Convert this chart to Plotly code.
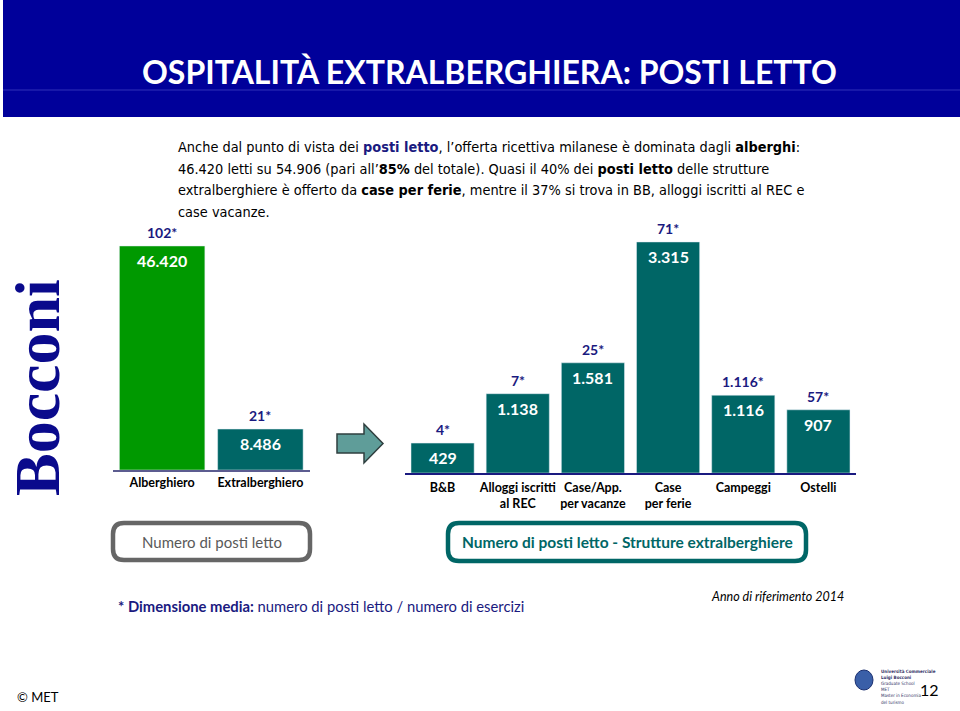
import plotly.graph_objects as go

W, H = 960, 711

# ---- data ----
left_cats = ["Alberghiero", "Extralberghiero"]
left_vals = [46420, 8486]
left_avg = ["102*", "21*"]

right_cats = ["B&B", "Alloggi iscritti<br>al REC", "Case/App.<br>per vacanze",
              "Case<br>per ferie", "Campeggi", "Ostelli"]
right_vals = [429, 1138, 1581, 3315, 1116, 907]
right_avg = ["4*", "7*", "25*", "71*", "1.116*", "57*"]

GREEN = "#009900"
TEAL = "#006666"
NAVY = "#1a1a80"
FONT = "Lato"


def fmt(v):
    return f"{v:,}".replace(",", ".")


def px(x):
    return x / W


def py(y):
    return 1 - y / H


fig = go.Figure()
fig.add_trace(go.Bar(x=left_cats, y=left_vals, marker_color=[GREEN, TEAL],
                     xaxis="x", yaxis="y", hoverinfo="skip", showlegend=False))
fig.add_trace(go.Bar(x=right_cats, y=right_vals, marker_color=TEAL,
                     xaxis="x2", yaxis="y2", hoverinfo="skip", showlegend=False))

ann = []
for c, v, a in zip(left_cats, left_vals, left_avg):
    ann.append(dict(x=c, y=v, xref="x", yref="y", text=f"<b>{fmt(v)}</b>", showarrow=False,
                    yanchor="top", yshift=-3, font=dict(family=FONT, size=16, color="white")))
    ann.append(dict(x=c, y=v, xref="x", yref="y", text=f"<b>{a}</b>", showarrow=False,
                    yanchor="bottom", yshift=3, font=dict(family=FONT, size=14, color=NAVY)))
for c, v, a in zip(right_cats, right_vals, right_avg):
    ann.append(dict(x=c, y=v, xref="x2", yref="y2", text=f"<b>{fmt(v)}</b>", showarrow=False,
                    yanchor="top", yshift=-3, font=dict(family=FONT, size=16, color="white")))
    ann.append(dict(x=c, y=v, xref="x2", yref="y2", text=f"<b>{a}</b>", showarrow=False,
                    yanchor="bottom", yshift=3, font=dict(family=FONT, size=14, color=NAVY)))


def text(x, y, t, size, color="black", xanchor="left", family=FONT, angle=0):
    ann.append(dict(x=px(x), y=py(y), xref="paper", yref="paper", text=t, showarrow=False,
                    xanchor=xanchor, yanchor="middle", textangle=angle,
                    font=dict(family=family, size=size, color=color)))


# title
text(489, 71, "<b>OSPITALITÀ EXTRALBERGHIERA: POSTI LETTO</b>", 32, "white", "center")

# body paragraph
BODY = "Liberation Sans Narrow, DejaVu Sans Condensed, Arial Narrow, sans-serif"
body_lines = [
    "Anche dal punto di vista dei <b><span style='color:#1a1a80'>posti letto</span></b>, l’offerta ricettiva milanese è dominata dagli <b>alberghi</b>:",
    "46.420 letti su 54.906 (pari all’<b>85%</b> del totale). Quasi il 40% dei <b>posti letto</b> delle strutture",
    "extralberghiere è offerto da <b>case per ferie</b>, mentre il 37% si trova in BB, alloggi iscritti al REC e",
    "case vacanze.",
]
for i, ln in enumerate(body_lines):
    text(176, 147 + i * 21.7, ln, 14.4, "black", "left", BODY)

# boxes text
text(211.5, 542, "Numero di posti letto", 15, "#595959", "center")
text(627, 542, "<b>Numero di posti letto - Strutture extralberghiere</b>", 15.5, TEAL, "center")

# footnote
text(116, 606, "<b>* Dimensione media:</b> numero di posti letto / numero di esercizi", 14.8, NAVY)
text(709, 596, "<i>Anno di riferimento 2014</i>", 12.5, "black")
text(15, 697, "© MET", 13, "black")
text(929, 689, "12", 16, "black", "center")

# Bocconi vertical logo
text(38, 388, "<b>Bocconi</b>", 64, "#0a0a8c", "center", "Liberation Serif, DejaVu Serif, serif", -90)

# small logo texts
logo_lines = ["<b>Università Commerciale</b>", "<b>Luigi Bocconi</b>", "Graduate School",
              "MET", "Master in Economia", "del turismo"]
for i, ln in enumerate(logo_lines):
    text(879, 671 + i * 6.2, ln, 4.5, "#333366", "left", "DejaVu Sans Condensed, DejaVu Sans")

shapes = []
# header
shapes.append(dict(type="rect", xref="paper", yref="paper", x0=px(3), x1=1, y0=py(117), y1=1,
                   fillcolor="#00009a", line_width=0, layer="below"))
shapes.append(dict(type="line", xref="paper", yref="paper", x0=px(3), x1=1, y0=py(90), y1=py(90),
                   line=dict(color="#3030b8", width=1)))

# arrow
pts = [(337, 434), (364, 434), (364, 424), (383, 443.5), (364, 463), (364, 453), (337, 453)]
path = "M " + " L ".join(f"{px(a):.5f},{py(b):.5f}" for a, b in pts) + " Z"
shapes.append(dict(type="path", xref="paper", yref="paper", path=path,
                   fillcolor="#5f9d99", line=dict(color="#2f3f3f", width=1.5)))


def rbox(x0, y0, x1, y1, r, color):
    X0, X1, Y0, Y1 = px(x0), px(x1), py(y0), py(y1)
    rx, ry = r / W, r / H
    p = (f"M {X0+rx},{Y0} L {X1-rx},{Y0} Q {X1},{Y0} {X1},{Y0-ry} "
         f"L {X1},{Y1+ry} Q {X1},{Y1} {X1-rx},{Y1} L {X0+rx},{Y1} "
         f"Q {X0},{Y1} {X0},{Y1+ry} L {X0},{Y0-ry} Q {X0},{Y0} {X0+rx},{Y0} Z")
    return dict(type="path", xref="paper", yref="paper", path=p,
                line=dict(color=color, width=4.5), fillcolor="rgba(0,0,0,0)")


shapes.append(rbox(113, 523, 310, 560, 11, "#666666"))
shapes.append(rbox(448, 523, 806, 561, 11, TEAL))

# small emblem
shapes.append(dict(type="circle", xref="paper", yref="paper", x0=px(855), x1=px(873),
                   y0=py(690), y1=py(670), fillcolor="#3a5fa8", line=dict(color="#1a2f70", width=1)))

tickfont = dict(family=FONT, size=12.5, color="black")
fig.update_layout(
    width=W, height=H, margin=dict(l=0, r=0, t=0, b=0),
    paper_bgcolor="white", plot_bgcolor="rgba(0,0,0,0)",
    annotations=ann, shapes=shapes,
    xaxis=dict(domain=[px(113), px(309.5)], type="category", showline=True, linecolor="#5c5c90",
               linewidth=2, ticks="", showgrid=False, zeroline=False, tickfont=tickfont,
               tickangle=0,
               tickvals=left_cats, ticktext=[f"<b>{c}</b>" for c in left_cats], fixedrange=True),
    yaxis=dict(domain=[py(470), py(228.7)], range=[0, 50000], visible=False, fixedrange=True),
    xaxis2=dict(domain=[px(405), px(856)], type="category", showline=True, linecolor=NAVY,
                linewidth=2, ticks="", showgrid=False, zeroline=False, tickfont=tickfont,
                tickangle=0, ticklabelstandoff=2,
                tickvals=right_cats, ticktext=[f"<b>{c}</b>" for c in right_cats],
                anchor="y2", fixedrange=True),
    yaxis2=dict(domain=[py(473), py(222.1)], range=[0, 3600], visible=False, anchor="x2",
                fixedrange=True),
    bargap=0.15,
)
fig.update_traces(selector=dict(xaxis="x"), width=0.87)
fig.update_traces(selector=dict(xaxis="x2"), width=0.84)

fig.write_html("out.html", config={"displayModeBar": False},
               post_script="document.body.style.margin='0px';document.body.style.overflow='hidden';")
